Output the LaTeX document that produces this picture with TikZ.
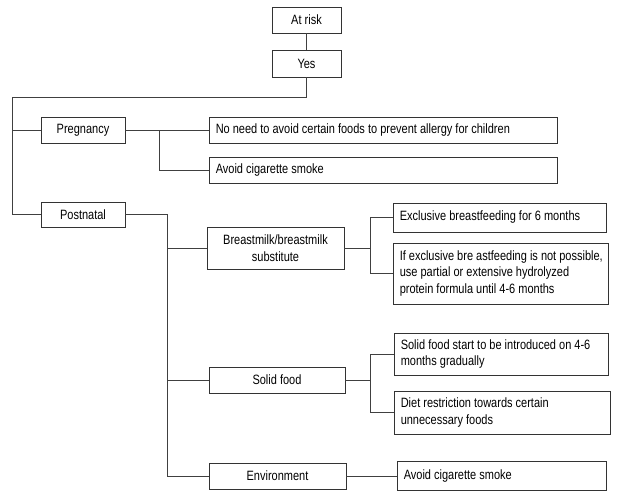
\documentclass[tikz,border=0pt]{standalone}
\usepackage{fontspec}
\setmainfont{Liberation Sans}[FakeStretch=0.815]
\begin{document}
\begin{tikzpicture}[x=1pt,y=-1pt,
  box/.style={draw=black!80, line width=0.9pt, inner sep=0pt, align=center,
    font=\fontsize{13.5}{16.5}\selectfont},
  txt/.style={anchor=west, inner sep=0pt, align=left, xshift=7pt,
    font=\fontsize{13.5}{16.5}\selectfont},
  conn/.style={draw=black!75, line width=0.9pt}]
\useasboundingbox (0,0) rectangle (617,500);
\node[box, minimum width=69, minimum height=26] (atrisk) at (306.5,20) {At risk};
\node[box, minimum width=69, minimum height=27] (yes) at (306.5,63.5) {Yes};
\node[box, minimum width=84, minimum height=26] (preg) at (83,130) {Pregnancy};
\node[box, minimum width=84, minimum height=25] (post) at (83,214.5) {Postnatal};
\node[box, minimum width=348, minimum height=26] (noneed) at (383,130) {};
\node[txt] (noneedT) at (noneed.west) {No need to avoid certain foods to prevent allergy for children};
\node[box, minimum width=348, minimum height=26] (avoidA) at (383,170) {};
\node[txt] (avoidAT) at (avoidA.west) {Avoid cigarette smoke};
\node[box, minimum width=137, minimum height=42] (breast) at (275.5,248) {Breastmilk/breastmilk\\substitute};
\node[box, minimum width=213, minimum height=29] (excl) at (499.5,217.5) {};
\node[txt] (exclT) at (excl.west) {Exclusive breastfeeding for 6 months};
\node[box, minimum width=215, minimum height=61] (ifex) at (500.5,273.5) {};
\node[txt] (ifexT) at (ifex.west) {If exclusive bre astfeeding is not possible,\\use partial or extensive hydrolyzed\\protein formula until 4-6 months};
\node[box, minimum width=136, minimum height=26] (solid) at (277,380) {Solid food};
\node[box, minimum width=214, minimum height=42] (start) at (501,354) {};
\node[txt] (startT) at (start.west) {Solid food start to be introduced on 4-6\\months gradually};
\node[box, minimum width=216, minimum height=43] (diet) at (502,412.5) {};
\node[txt] (dietT) at (diet.west) {Diet restriction towards certain\\unnecessary foods};
\node[box, minimum width=137, minimum height=26] (env) at (277.5,476) {Environment};
\node[box, minimum width=209, minimum height=29] (avoidB) at (501.5,476) {};
\node[txt] (avoidBT) at (avoidB.west) {Avoid cigarette smoke};
% connectors
\coordinate (trunk) at (12,97);
\coordinate (pj) at (159,130);
\coordinate (qj) at (167,0);
\coordinate (bj) at (370,0);
\path[conn] (atrisk.south) -- (yes.north);
\path[conn] (yes.south) |- (trunk) |- (post.west);
\path[conn] (trunk |- preg.west) -- (preg.west);
\path[conn] (preg.east) -- (noneed.west);
\path[conn] (pj) |- (avoidA.west);
\path[conn] (post.east) -| (qj |- env.west) -- (env.west);
\path[conn] (qj |- breast.west) -- (breast.west);
\path[conn] (qj |- solid.west) -- (solid.west);
\path[conn] (breast.east) -- (bj |- breast.east);
\path[conn] (excl.west) -| (bj |- ifex.west) -- (ifex.west);
\path[conn] (solid.east) -- (bj |- solid.east);
\path[conn] (start.west) -| (bj |- diet.west) -- (diet.west);
\path[conn] (env.east) -- (avoidB.west);
\end{tikzpicture}
\end{document}
